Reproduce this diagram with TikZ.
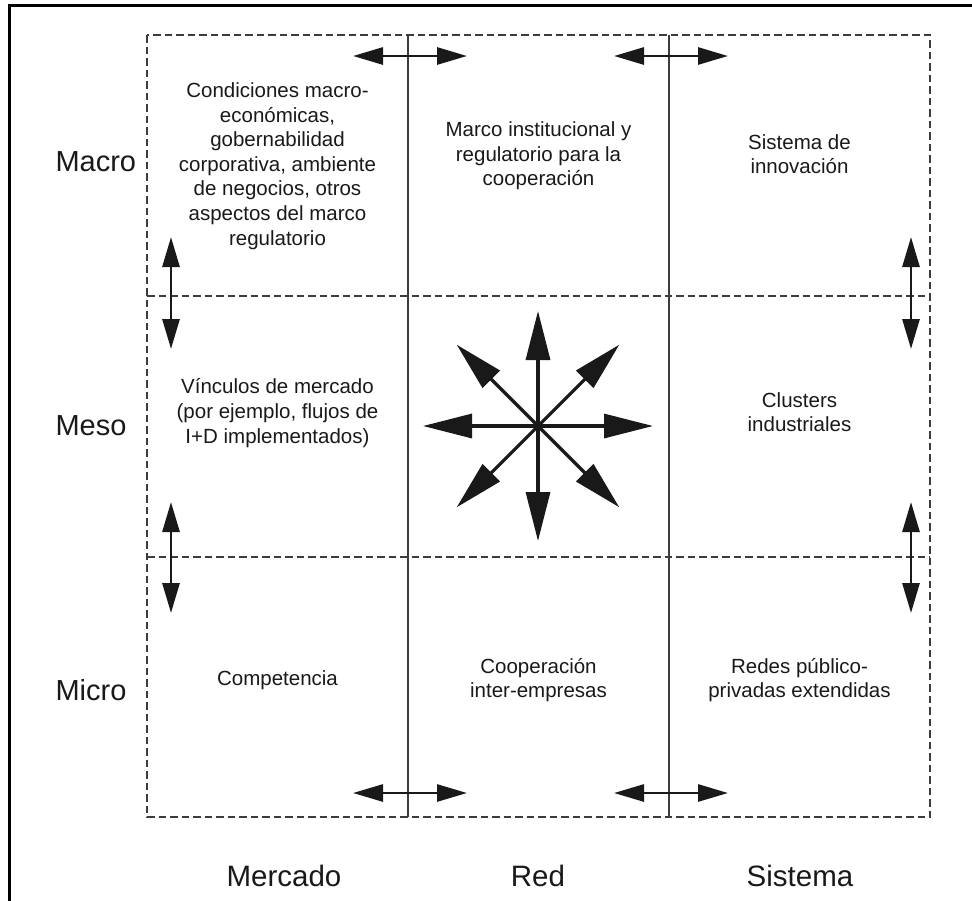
\documentclass[tikz,border=0pt]{standalone}
\usepackage{fontspec}
\setmainfont{Liberation Sans}
\usetikzlibrary{arrows.meta,calc}
\definecolor{linegray}{RGB}{60,60,60}
\definecolor{inkdark}{RGB}{25,25,25}

\begin{document}
\begin{tikzpicture}[x=1pt, y=-1pt,
  cell/.style={font=\fontsize{20.5}{24.6}\selectfont, text=inkdark, align=center},
  rowlabel/.style={font=\fontsize{29}{34}\selectfont, text=inkdark, anchor=west},
  collabel/.style={font=\fontsize{29.5}{34}\selectfont, text=inkdark},
  gridline/.style={draw=linegray, line width=1.6pt, dash pattern=on 7.5pt off 4pt},
  divider/.style={draw=linegray, line width=1.3pt},
  swap/.style={{Triangle[length=30pt,width=17pt]}-{Triangle[length=30pt,width=17pt]},
    line width=2.8pt, inkdark},
  ray/.style={-{Triangle[length=49pt,width=24pt]}, line width=3.2pt, inkdark},
]
  \useasboundingbox (0,0) rectangle (972,900);

  % outer frame (cut at right and bottom)
  \draw[line width=3pt, black] (9,910) -- (9,5) -- (985,5);

  % dashed grid
  \draw[gridline] (147,35) rectangle (930,817);
  \draw[gridline] (147,296) -- (930,296);
  \draw[gridline] (147,557) -- (930,557);
  \draw[divider] (408,35) -- (408,817);
  \draw[divider] (669,35) -- (669,817);

  % Macro
  \node[cell] (macmer) at (277.5,166) {Condiciones macro-\\económicas,\\gobernabilidad\\corporativa, ambiente\\de negocios, otros\\aspectos del marco\\regulatorio};
  \node[cell] (macred) at (538.5,156) {Marco institucional y\\regulatorio para la\\cooperación};
  \node[cell] (macsis) at (799.5,154) {Sistema de\\innovación};

  % Meso
  \node[cell] (mesmer) at (277.5,413) {Vínculos de mercado\\(por ejemplo, flujos de\\I+D implementados)};
  \node[cell] (messis) at (799.5,412) {Clusters\\industriales};

  % Micro
  \node[cell] (micmer) at (277.5,680) {Competencia};
  \node[cell] (micred) at (538.5,680) {Cooperación\\inter-empresas};
  \node[cell] (micsis) at (799.5,680) {Redes público-\\privadas extendidas};

  % row and column labels
  \node[rowlabel] (macro) at (52,162) {Macro};
  \node[rowlabel] (meso) at (52,426) {Meso};
  \node[rowlabel] (micro) at (52,690) {Micro};
  \node[collabel] (mercado) at (284,876) {Mercado};
  \node[collabel] (red) at (538,876) {Red};
  \node[collabel] (sistema) at (800,876) {Sistema};

  % horizontal exchange arrows
  \foreach \x/\n in {408/a, 669/b} {
    \coordinate (top\n w) at (\x-55,56);
    \coordinate (top\n e) at (\x+59,56);
    \coordinate (bot\n w) at (\x-55,793);
    \coordinate (bot\n e) at (\x+59,793);
    \draw[swap] (top\n w) -- (top\n e);
    \draw[swap] (bot\n w) -- (bot\n e);
  }

  % vertical exchange arrows
  \foreach \x/\n in {171/l, 911/r} {
    \coordinate (up\n n) at (\x,237);
    \coordinate (up\n s) at (\x,349);
    \coordinate (lo\n n) at (\x,502);
    \coordinate (lo\n s) at (\x,613);
    \draw[swap] (up\n n) -- (up\n s);
    \draw[swap] (lo\n n) -- (lo\n s);
  }

  % central star
  \coordinate (hub) at (538,426);
  \foreach \a in {0,45,...,315} {
    \coordinate (tip\a) at ($(hub)+(\a:115)$);
    \draw[ray] (hub) -- (tip\a);
  }
\end{tikzpicture}
\end{document}
